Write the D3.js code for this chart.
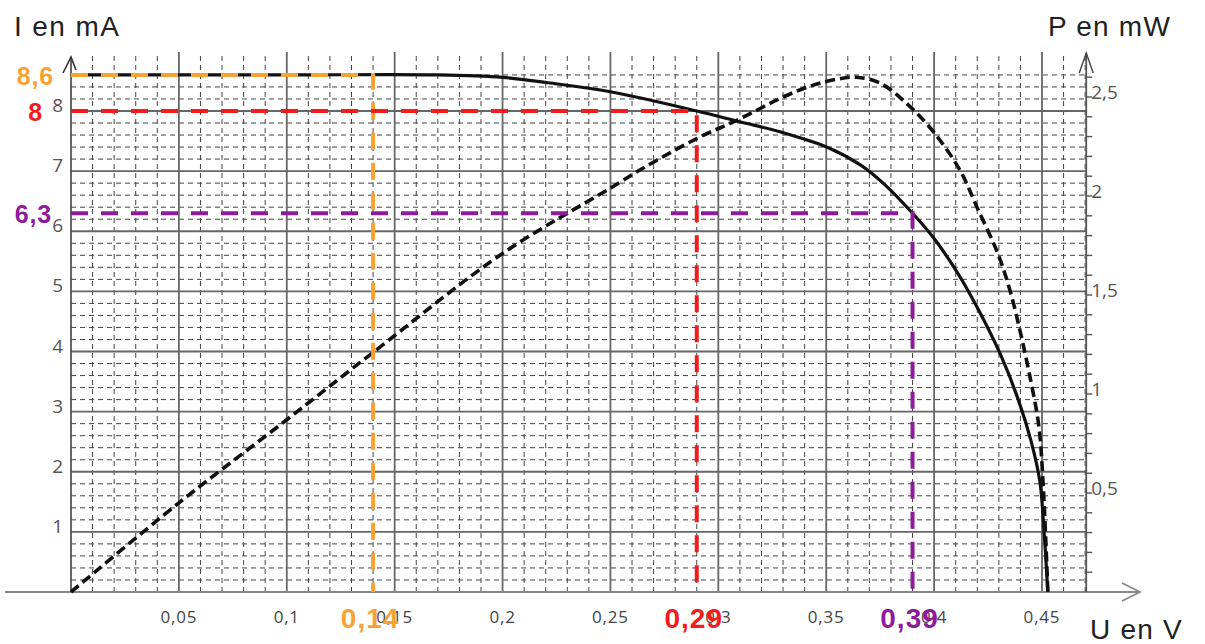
<!DOCTYPE html>
<html>
<head>
<meta charset="utf-8">
<script src="https://cdn.jsdelivr.net/npm/d3@7"></script>
<style>
  body { margin: 0; background: #fff; }
  svg { display: block; }
</style>
</head>
<body>
<svg width="1205" height="644"></svg>
<script>
// I(U) curve
const uI = [0, 0.1, 0.17, 0.2, 0.221, 0.25, 0.29, 0.31, 0.329, 0.351, 0.366, 0.377, 0.39, 0.4, 0.411, 0.42, 0.431, 0.439, 0.445, 0.449, 0.451, 0.4527];
const iValues = [8.6, 8.6, 8.6, 8.56, 8.47, 8.32, 8.0, 7.82, 7.65, 7.39, 7.1, 6.78, 6.3, 5.88, 5.3, 4.73, 3.93, 3.2, 2.5, 1.84, 0.98, 0];

// P(U) curve
const uP = [0, 0.05, 0.1, 0.14, 0.2, 0.25, 0.265, 0.29, 0.31, 0.33, 0.344, 0.355, 0.364, 0.375, 0.388, 0.4, 0.412, 0.42, 0.4295, 0.4355, 0.44, 0.444, 0.4485, 0.4505, 0.4527];
const pValues = [0, 0.45, 0.87, 1.21, 1.71, 2.04, 2.14, 2.29, 2.39, 2.5, 2.56, 2.59, 2.6, 2.57, 2.46, 2.32, 2.13, 1.94, 1.71, 1.51, 1.31, 1.11, 0.84, 0.55, 0];

// ticks
const uTicks = [0.05, 0.1, 0.15, 0.2, 0.25, 0.3, 0.35, 0.4, 0.45];
const uTickLabels = ["0,05", "0,1", "0,15", "0,2", "0,25", "0,3", "0,35", "0,4", "0,45"];
const iTicks = [1, 2, 3, 4, 5, 6, 7, 8];
const pTicks = [0.5, 1, 1.5, 2, 2.5];
const pTickLabels = ["0,5", "1", "1,5", "2", "2,5"];

// read-off points
const markU = [0.14, 0.29, 0.39];
const markI = [8.6, 8, 6.3];
const markULabels = ["0,14", "0,29", "0,39"];
const markILabels = ["8,6", "8", "6,3"];
const markColors = ["#f7a232", "#f21c1c", "#8e1b9c"];
const markILabelX = [54, 43, 52];

const svg = d3.select("svg");

const x = d3.scaleLinear().domain([0, 0.45]).range([71, 1042]);
const yI = d3.scaleLinear().domain([0, 8]).range([592, 111]);
const yP = d3.scaleLinear().domain([0, 2.5]).range([592, 97]);

const uRight = 0.4705;
const xRight = x(uRight);
const yTop = 52;

// grid: minor
const minorU = d3.range(1, 48).map(d => d / 100).filter(d => Math.round(d * 100) % 5 !== 0 && d < uRight);
const minorI = d3.range(1, 44).map(d => d / 5).filter(d => Math.round(d * 5) % 5 !== 0);

const grid = svg.append("g");
grid.selectAll(".vmin").data(minorU).enter().append("line")
  .attr("x1", d => x(d)).attr("x2", d => x(d))
  .attr("y1", yI(0)).attr("y2", yTop)
  .attr("stroke", "#444").attr("stroke-width", 1).attr("stroke-dasharray", "5,4");
grid.selectAll(".hmin").data(minorI).enter().append("line")
  .attr("x1", x(0)).attr("x2", xRight)
  .attr("y1", d => yI(d)).attr("y2", d => yI(d))
  .attr("stroke", "#444").attr("stroke-width", 1).attr("stroke-dasharray", "5,4");

// grid: major
grid.selectAll(".vmaj").data(uTicks).enter().append("line")
  .attr("x1", d => x(d)).attr("x2", d => x(d))
  .attr("y1", yI(0)).attr("y2", yTop)
  .attr("stroke", "#666").attr("stroke-width", 1.8);
grid.selectAll(".hmaj").data(iTicks).enter().append("line")
  .attr("x1", x(0)).attr("x2", xRight)
  .attr("y1", d => yI(d)).attr("y2", d => yI(d))
  .attr("stroke", "#666").attr("stroke-width", 1.8);

// axes
const axisColor = "#888";
svg.append("line").attr("x1", 5).attr("x2", 1140).attr("y1", yI(0)).attr("y2", yI(0))
  .attr("stroke", axisColor).attr("stroke-width", 2);
svg.append("path").attr("d", `M1122,583 L1140,592 L1122,601`)
  .attr("fill", "none").attr("stroke", axisColor).attr("stroke-width", 1.8);

svg.append("line").attr("x1", x(0)).attr("x2", x(0)).attr("y1", yI(0)).attr("y2", 57)
  .attr("stroke", "#555").attr("stroke-width", 1.8);
svg.append("path").attr("d", `M${x(0) - 8},73 L${x(0)},57 L${x(0) + 5},70`)
  .attr("fill", "none").attr("stroke", "#333").attr("stroke-width", 1.6);

svg.append("line").attr("x1", xRight).attr("x2", xRight).attr("y1", yI(0)).attr("y2", 53)
  .attr("stroke", "#555").attr("stroke-width", 1.8);
svg.append("path").attr("d", `M${xRight - 7},73 L${xRight},53 L${xRight + 7},73`)
  .attr("fill", "none").attr("stroke", "#444").attr("stroke-width", 1.4);

const pMinor = d3.range(1, 27).map(d => d / 10);
svg.selectAll(".ptick").data(pMinor).enter().append("line")
  .attr("x1", xRight).attr("x2", xRight + 6)
  .attr("y1", d => yP(d)).attr("y2", d => yP(d))
  .attr("stroke", "#555").attr("stroke-width", 1.4);

// tick labels
svg.selectAll(".ulab").data(uTicks).enter().append("text")
  .attr("x", d => x(d)).attr("y", 623)
  .attr("text-anchor", "middle")
  .attr("font-family", "Open Sans").attr("font-size", 17).attr("letter-spacing", 0.8)
  .attr("fill", "#444")
  .text((d, i) => uTickLabels[i]);

svg.selectAll(".ilab").data(iTicks).enter().append("text")
  .attr("x", 63).attr("y", d => yI(d) + 1)
  .attr("text-anchor", "end")
  .attr("font-family", "Open Sans").attr("font-size", 19)
  .attr("fill", "#555")
  .text(d => d);

svg.selectAll(".plab").data(pTicks).enter().append("text")
  .attr("x", xRight + 5).attr("y", d => yP(d) + 2)
  .attr("font-family", "Open Sans").attr("font-size", 19)
  .attr("fill", "#555")
  .text((d, i) => pTickLabels[i]);

// axis titles
const titleFont = "Liberation Sans, Arial, sans-serif";
svg.append("text").attr("x", 14).attr("y", 36).attr("font-family", titleFont)
  .attr("font-size", 28).attr("letter-spacing", 1.4).attr("fill", "#222").text("I en mA");
svg.append("text").attr("x", 1048).attr("y", 36).attr("font-family", titleFont)
  .attr("font-size", 28).attr("letter-spacing", 1.2).attr("fill", "#222").text("P en mW");
svg.append("text").attr("x", 1090).attr("y", 639).attr("font-family", titleFont)
  .attr("font-size", 28).attr("letter-spacing", 1.2).attr("fill", "#222").text("U en V");

// curves
const iLine = d3.line().x(d => x(d[0])).y(d => yI(d[1])).curve(d3.curveCatmullRom.alpha(0.5));
const pLine = d3.line().x(d => x(d[0])).y(d => yP(d[1])).curve(d3.curveCatmullRom.alpha(0.5));

svg.append("path").datum(uP.map((u, i) => [u, pValues[i]]))
  .attr("d", pLine).attr("fill", "none")
  .attr("stroke", "#111").attr("stroke-width", 3.6).attr("stroke-dasharray", "10,5");

svg.append("path").datum(uI.map((u, i) => [u, iValues[i]]))
  .attr("d", iLine).attr("fill", "none")
  .attr("stroke", "#111").attr("stroke-width", 3.2);

// read-off lines
const marks = svg.append("g");
markU.forEach((u, i) => {
  const c = markColors[i];
  marks.append("path")
    .attr("d", `M${x(0)},${yI(markI[i])} H${x(u)} V${yI(0)}`)
    .attr("fill", "none").attr("stroke", c).attr("stroke-width", 4)
    .attr("stroke-dasharray", "17,13");
  marks.append("text")
    .attr("x", x(u) - 3).attr("y", 628)
    .attr("text-anchor", "middle")
    .attr("font-family", titleFont).attr("font-weight", "bold")
    .attr("font-size", 28).attr("letter-spacing", 1)
    .attr("fill", c).text(markULabels[i]);
  marks.append("text")
    .attr("x", markILabelX[i]).attr("y", yI(markI[i]) + 10)
    .attr("text-anchor", "end")
    .attr("font-family", titleFont).attr("font-weight", "bold")
    .attr("font-size", 25).attr("letter-spacing", 0.8)
    .attr("fill", c).text(markILabels[i]);
});
</script>
</body>
</html>
